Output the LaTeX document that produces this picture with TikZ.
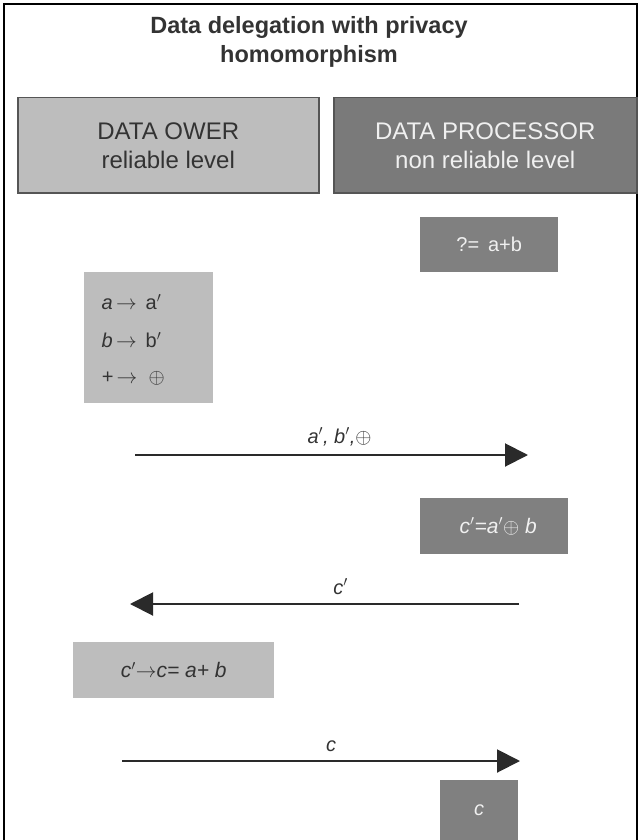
\documentclass[tikz,border=0pt]{standalone}
\usepackage{fontspec}
\setmainfont{Liberation Sans}
\usetikzlibrary{arrows.meta}
\definecolor{lgray}{HTML}{BDBDBD}
\definecolor{dgray}{HTML}{808080}
\definecolor{hgray}{HTML}{7A7A7A}
\definecolor{bordergray}{HTML}{555555}
\definecolor{darktext}{HTML}{333333}
\definecolor{lighttext}{HTML}{F0F0F0}
\definecolor{arrowgray}{HTML}{2A2A2A}
\tikzset{
  hdr/.style={draw=bordergray, line width=1.5pt, anchor=north west, inner sep=0pt, align=center, font=\fontsize{24}{29}\selectfont},
  lbox/.style={fill=lgray, anchor=north west, inner sep=0pt, text=darktext},
  dbox/.style={fill=dgray, anchor=north west, inner sep=0pt, text=lighttext},
  flow/.style={draw=arrowgray, line width=2pt, -{Triangle[length=23pt,width=23pt]}},
  lbl/.style={font=\fontsize{20}{24}\selectfont, text=darktext},
  rowtxt/.style={anchor=west, text=darktext, font=\fontsize{20}{24}\selectfont}
}
\begin{document}
\begin{tikzpicture}[x=1pt,y=-1pt]
\useasboundingbox (0,0) rectangle (640,840);
\begin{scope}
\clip (0,0) rectangle (640,840);
\draw[line width=1.5pt] (4,900) -- (4,4) -- (637,4) -- (637,900);
\end{scope}
\node[font=\bfseries\fontsize{23.5}{29}\selectfont, align=center, text=darktext] (title) at (309,42) {Data delegation with privacy\\homomorphism};
\node[hdr, fill=lgray, text=darktext, minimum width=301pt, minimum height=95pt] (owner) at (17,97) {DATA OWER\\reliable level};
\node[hdr, fill=hgray, text=lighttext, minimum width=303pt, minimum height=95pt] (proc) at (333,97) {DATA PROCESSOR\\non reliable level};
\node[dbox, minimum width=138pt, minimum height=55pt, font=\fontsize{20}{24}\selectfont] (q) at (420,217) {?=\, a+b};
\node[lbox, minimum width=129pt, minimum height=131pt] (enc) at (84,272) {};
\node[rowtxt] (l1) at (98,302) {\textit{a}$\,\rightarrow$\, a$'$};
\node[rowtxt] (l2) at (98,340) {\textit{b}$\,\rightarrow$\, b$'$};
\node[rowtxt] (l3) at (98,378) {\textit{+}$\,\rightarrow$\; $\oplus$};
\coordinate (a1s) at (135,455);
\coordinate (a1e) at (528,455);
\draw[flow] (a1s) -- (a1e) node[lbl, midway, above=5pt, xshift=8pt] (t1) {\textit{a$'$, b$'$,}$\oplus$};
\node[dbox, minimum width=148pt, minimum height=56pt, font=\itshape\fontsize{21}{24}\selectfont] (comp) at (420,498) {\hspace*{8pt}c$'$=a$'$$\oplus$ b};
\coordinate (a2s) at (519,604);
\coordinate (a2e) at (130,604);
\draw[flow] (a2s) -- (a2e) node[lbl, midway, above=5pt, xshift=16pt] (t2) {\textit{c$'$}};
\node[lbox, minimum width=201pt, minimum height=56pt, font=\itshape\fontsize{21}{24}\selectfont] (dec) at (73,642) {c$'$$\rightarrow$c= a+ b};
\coordinate (a3s) at (122,761);
\coordinate (a3e) at (520,761);
\draw[flow] (a3s) -- (a3e) node[lbl, midway, above=5pt, xshift=10pt] (t3) {\textit{c}};
\node[dbox, minimum width=78pt, minimum height=70pt, font=\itshape\fontsize{20}{24}\selectfont, text depth=0pt] (res) at (440,780) {\raisebox{10pt}{c}};
\end{tikzpicture}
\end{document}
